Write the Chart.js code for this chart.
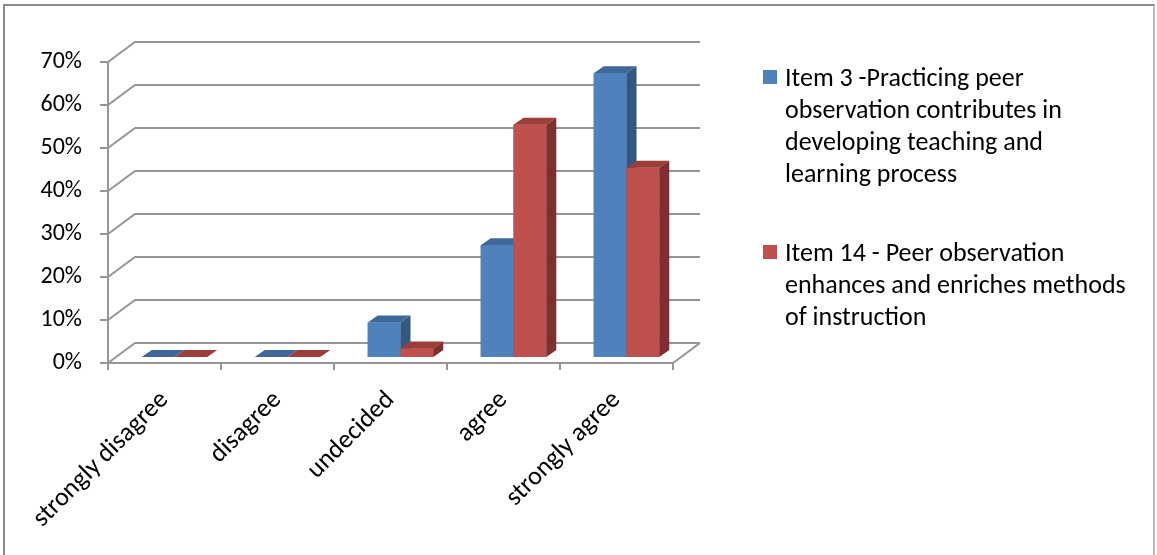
<!DOCTYPE html>
<html>
<head>
<meta charset="utf-8">
<script src="https://cdn.jsdelivr.net/npm/chart.js@4.4.0/dist/chart.umd.min.js"></script>
<style>
    body { margin: 0; background: #fff; overflow: hidden; font-family: Carlito, Lato, sans-serif; }
    #frame { position: absolute; left: 3px; top: 4px; width: 1148px; height: 600px;
        border-left: 2px solid #8a8a8a; border-top: 2px solid #8a8a8a; border-right: 2px solid #bdbdbd; }
    #chart { position: absolute; left: 0; top: 0; }
    #legend { position: absolute; left: 763px; top: 61px; font-size: 26px; line-height: 32px; color: #000; }
    .legend-item { position: relative; padding-left: 22px; white-space: nowrap; }
    .legend-item + .legend-item { margin-top: 47px; }
    .legend-box { position: absolute; left: 0; top: 9px; width: 14px; height: 14px; }
</style>
</head>
<body>
<div id="frame"></div>
<canvas id="chart" width="1157" height="555"></canvas>
<div id="legend"></div>
<script>
const categories = ["strongly disagree", "disagree", "undecided", "agree", "strongly agree"];
const item3Values = [0, 0, 0.08, 0.26, 0.66];
const item14Values = [0, 0, 0.02, 0.54, 0.44];
const yTicks = [0, 0.1, 0.2, 0.3, 0.4, 0.5, 0.6, 0.7];

const seriesNames = [
    ["Item 3 -Practicing peer", "observation contributes in", "developing teaching and", "learning process"],
    ["Item 14 - Peer observation", "enhances and enriches methods", "of instruction"],
];
const frontColors = ["#4F81BD", "#C0504D"];
const topColors = ["#3E6899", "#9E3E3B"];
const sideColors = ["#34577F", "#7D302E"];

// oblique 3d look: wall depth and bar depth in px
const WALL_DX = 27, WALL_DY = 20;
const BAR_SHIFT_X = 10, BAR_SHIFT_Y = 6;
const BAR_DX = 10, BAR_DY = 7;
const GRID_COLOR = "#969696";
const FONT = "Carlito, Lato, sans-serif";

function drawFaces(ctx, b, i) {
    const left = b.x - b.width / 2;
    const right = b.x + b.width / 2;
    ctx.fillStyle = frontColors[i];
    ctx.fillRect(left, b.y, b.width, b.base - b.y);
    ctx.fillStyle = topColors[i];
    ctx.beginPath();
    ctx.moveTo(left, b.y);
    ctx.lineTo(right, b.y);
    ctx.lineTo(right + BAR_DX, b.y - BAR_DY);
    ctx.lineTo(left + BAR_DX, b.y - BAR_DY);
    ctx.closePath();
    ctx.fill();
    ctx.fillStyle = sideColors[i];
    ctx.beginPath();
    ctx.moveTo(right, b.y);
    ctx.lineTo(right + BAR_DX, b.y - BAR_DY);
    ctx.lineTo(right + BAR_DX, b.base - BAR_DY);
    ctx.lineTo(right, b.base);
    ctx.closePath();
    ctx.fill();
}

const box3d = {
    id: "box3d",
    beforeDatasetsDraw(chart) {
        const ctx = chart.ctx;
        const area = chart.chartArea;
        const y = chart.scales.y;
        const x = chart.scales.x;
        ctx.save();
        ctx.strokeStyle = GRID_COLOR;
        ctx.lineWidth = 2;
        ctx.beginPath();
        yTicks.forEach((v) => {
            const py = Math.round(y.getPixelForValue(v));
            ctx.moveTo(area.left, py);
            ctx.lineTo(area.left + WALL_DX, py - WALL_DY);
            ctx.lineTo(area.right + WALL_DX, py - WALL_DY);
            ctx.moveTo(area.left - 8, py);
            ctx.lineTo(area.left, py);
        });
        // floor front edge and side
        const py0 = Math.round(y.getPixelForValue(0));
        ctx.moveTo(area.left, py0);
        ctx.lineTo(area.right, py0);
        ctx.lineTo(area.right + WALL_DX, py0 - WALL_DY);
        // left axis
        ctx.moveTo(area.left, Math.round(y.getPixelForValue(0.7)));
        ctx.lineTo(area.left, py0);
        // category tick marks
        const step = x.width / categories.length;
        for (let k = 0; k <= categories.length; k++) {
            const px = Math.round(area.left + k * step);
            ctx.moveTo(px, py0);
            ctx.lineTo(px, py0 + 7);
        }
        ctx.stroke();
        ctx.restore();

        ctx.save();
        ctx.translate(BAR_SHIFT_X, -BAR_SHIFT_Y);
    },
    afterDatasetsDraw(chart) {
        const ctx = chart.ctx;
        categories.forEach((c, k) => {
            chart.data.datasets.forEach((ds, i) => {
                const bar = chart.getDatasetMeta(i).data[k];
                const b = bar.getProps(["x", "y", "base", "width"], true);
                drawFaces(ctx, b, i);
            });
        });
        ctx.restore();
    },
};

new Chart(document.getElementById("chart"), {
    type: "bar",
    data: {
        labels: categories,
        datasets: [
            {
                label: seriesNames[0].join(" "),
                data: item3Values,
                backgroundColor: frontColors[0],
                barPercentage: 1,
                categoryPercentage: 0.58,
            },
            {
                label: seriesNames[1].join(" "),
                data: item14Values,
                backgroundColor: frontColors[1],
                barPercentage: 1,
                categoryPercentage: 0.58,
            },
        ],
    },
    options: {
        responsive: false,
        animation: false,
        layout: { padding: { left: 0, right: 484, top: 62, bottom: 0 } },
        plugins: {
            legend: { display: false },
            tooltip: { enabled: false },
        },
        scales: {
            x: {
                grid: { display: false, drawTicks: false },
                border: { display: false },
                afterFit: (s) => { s.height = 192; },
                ticks: {
                    color: "#000",
                    font: { family: FONT, size: 26 },
                    maxRotation: 45,
                    minRotation: 45,
                    padding: 22,
                },
            },
            y: {
                min: 0,
                max: 0.7,
                grid: { display: false, drawTicks: false },
                border: { display: false },
                afterFit: (s) => { s.width = 108; },
                afterBuildTicks: (s) => { s.ticks = yTicks.map((v) => ({ value: v })); },
                ticks: {
                    color: "#000",
                    font: { family: FONT, size: 24 },
                    padding: 26,
                    callback: (v) => Math.round(v * 100) + "%",
                },
            },
        },
    },
    plugins: [box3d],
});

const legendEl = document.getElementById("legend");
seriesNames.forEach((lines, i) => {
    const item = document.createElement("div");
    item.className = "legend-item";
    const box = document.createElement("span");
    box.className = "legend-box";
    box.style.background = frontColors[i];
    item.appendChild(box);
    lines.forEach((t, j) => {
        if (j > 0) item.appendChild(document.createElement("br"));
        item.appendChild(document.createTextNode(t));
    });
    legendEl.appendChild(item);
});
</script>
</body>
</html>
